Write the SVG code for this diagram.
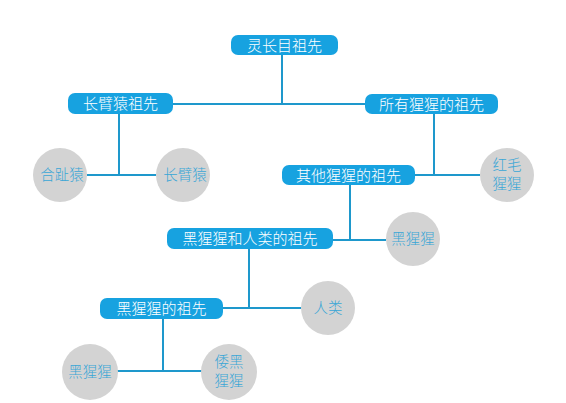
<svg xmlns="http://www.w3.org/2000/svg" width="566" height="403" viewBox="0 0 566 403">
<style>
.box{fill:#17a2e0;}
.bt{fill:#ffffff;font-family:"Noto Sans CJK SC","Liberation Sans",sans-serif;font-size:15px;font-weight:300;text-anchor:middle;}
.cir{fill:#d3d3d3;}
.ct{fill:#3aa6d6;font-family:"Noto Sans CJK SC","Liberation Sans",sans-serif;font-size:14.5px;font-weight:300;text-anchor:middle;}
.ln{fill:none;stroke:#1e98cc;stroke-width:2;}
</style>
<rect width="566" height="403" fill="#ffffff"/>
<g id="connectors">
<path class="ln" d="M282,54 V104 M173,104 H365"/>
<path class="ln" d="M119,114 V175 M87,175 H156"/>
<path class="ln" d="M434,114 V175 M415,175 H480"/>
<path class="ln" d="M350,185 V240 M333,240 H386"/>
<path class="ln" d="M249,249 V308 M223,308 H301"/>
<path class="ln" d="M163,319 V371 M117,371 H203"/>
</g>
<g id="n_root"><rect class="box" x="231" y="35" width="107" height="20" rx="7"/><text class="bt" x="284.5" y="50.5">灵长目祖先</text></g>
<g id="n_gibbon_anc"><rect class="box" x="68" y="93" width="105" height="21" rx="7"/><text class="bt" x="120.5" y="109">长臂猿祖先</text></g>
<g id="n_ape_anc"><rect class="box" x="365" y="94" width="133" height="20" rx="7"/><text class="bt" x="431.5" y="109.5">所有猩猩的祖先</text></g>
<g id="n_siamang"><circle class="cir" cx="60" cy="175" r="27"/><text class="ct" x="62" y="180">合趾猿</text></g>
<g id="n_gibbon"><circle class="cir" cx="183" cy="175" r="27"/><text class="ct" x="185" y="180">长臂猿</text></g>
<g id="n_other_anc"><rect class="box" x="282" y="165" width="133" height="20" rx="7"/><text class="bt" x="348.5" y="180.5">其他猩猩的祖先</text></g>
<g id="n_orangutan"><circle class="cir" cx="507" cy="175" r="27"/><text class="ct" x="507" y="170">红毛</text><text class="ct" x="507" y="189">猩猩</text></g>
<g id="n_human_anc"><rect class="box" x="167" y="228" width="166" height="21" rx="7"/><text class="bt" x="250" y="244">黑猩猩和人类的祖先</text></g>
<g id="n_gorilla"><circle class="cir" cx="413" cy="239" r="27"/><text class="ct" x="413" y="244">黑猩猩</text></g>
<g id="n_chimp_anc"><rect class="box" x="100" y="298" width="123" height="21" rx="7"/><text class="bt" x="161.5" y="314">黑猩猩的祖先</text></g>
<g id="n_human"><circle class="cir" cx="328" cy="308" r="27"/><text class="ct" x="328" y="313">人类</text></g>
<g id="n_chimp"><circle class="cir" cx="90" cy="372" r="28"/><text class="ct" x="90" y="377">黑猩猩</text></g>
<g id="n_bonobo"><circle class="cir" cx="229" cy="372" r="28"/><text class="ct" x="229" y="367">倭黑</text><text class="ct" x="229" y="386">猩猩</text></g>
</svg>
